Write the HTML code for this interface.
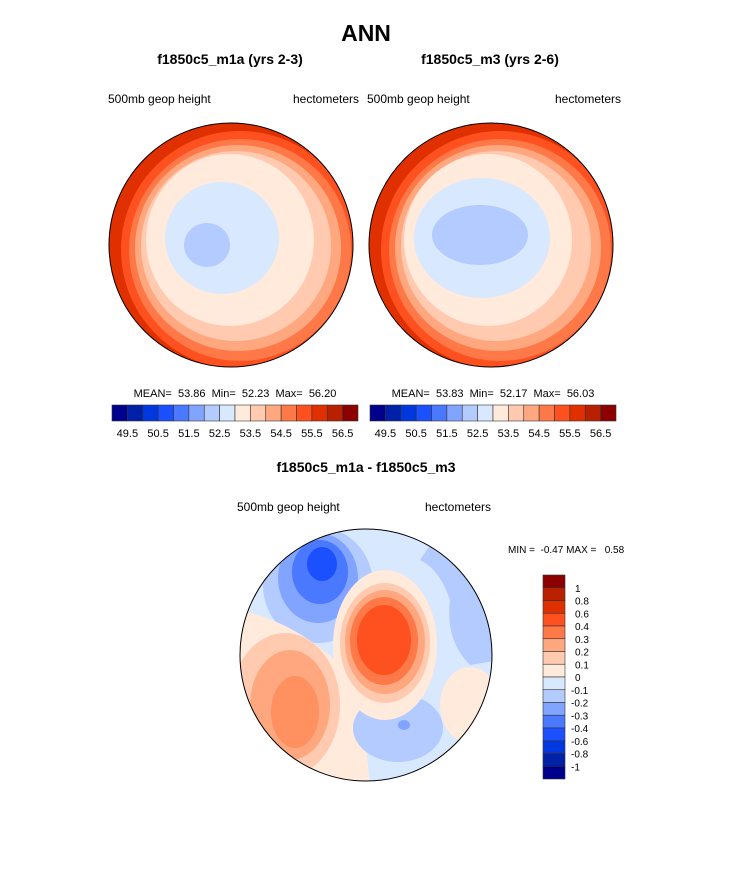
<!DOCTYPE html>
<html><head><meta charset="utf-8"><style>
body{margin:0;background:#fff;}
svg{display:block;font-family:"Liberation Sans",sans-serif;}
text{white-space:pre;}
</style></head><body>
<svg id="chart" width="733" height="882" viewBox="0 0 733 882">
<defs>
<clipPath id="c1"><circle cx="231" cy="245" r="122"/></clipPath>
<clipPath id="c2"><circle cx="491" cy="245" r="122"/></clipPath>
<clipPath id="c3"><circle cx="366" cy="655" r="126"/></clipPath>
</defs>
<text x="366" y="41" text-anchor="middle" font-size="23" font-weight="bold">ANN</text>
<text x="230" y="64" text-anchor="middle" font-size="14" font-weight="bold">f1850c5_m1a (yrs 2-3)</text>
<text x="490" y="64" text-anchor="middle" font-size="14" font-weight="bold">f1850c5_m3 (yrs 2-6)</text>
<text x="108" y="103" font-size="12">500mb geop height</text>
<text x="293" y="103" font-size="12">hectometers</text>
<text x="367" y="103" font-size="12">500mb geop height</text>
<text x="555" y="103" font-size="12">hectometers</text>

<g clip-path="url(#c1)">
<rect x="100" y="115" width="270" height="270" fill="#e03000"/>
<circle cx="240" cy="250" r="119" fill="#ff5020"/>
<circle cx="240" cy="250" r="111" fill="#ff7848"/>
<circle cx="238" cy="248" r="103" fill="#ffa880"/>
<circle cx="236" cy="246" r="95" fill="#ffcab0"/>
<ellipse cx="230" cy="240" rx="84" ry="86" fill="#ffeadc"/>
<ellipse cx="222" cy="238" rx="57" ry="56" fill="#d8e8ff"/>
<ellipse cx="207" cy="245" rx="23" ry="22" fill="#b4cbff"/>
</g>
<circle cx="231" cy="245" r="122" fill="none" stroke="#000" stroke-width="1"/>

<g clip-path="url(#c2)">
<rect x="360" y="115" width="270" height="270" fill="#e03000"/>
<circle cx="500" cy="250" r="119" fill="#ff5020"/>
<circle cx="500" cy="250" r="111" fill="#ff7848"/>
<circle cx="498" cy="248" r="103" fill="#ffa880"/>
<circle cx="496" cy="246" r="95" fill="#ffcab0"/>
<ellipse cx="488" cy="240" rx="84" ry="86" fill="#ffeadc"/>
<ellipse cx="482" cy="238" rx="68" ry="60" fill="#d8e8ff"/>
<ellipse cx="480" cy="235" rx="48" ry="30" fill="#b4cbff"/>
</g>
<circle cx="491" cy="245" r="122" fill="none" stroke="#000" stroke-width="1"/>

<text x="235" y="397" text-anchor="middle" font-size="11">MEAN=  53.86  Min=  52.23  Max=  56.20</text>
<text x="493" y="397" text-anchor="middle" font-size="11">MEAN=  53.83  Min=  52.17  Max=  56.03</text>
<g id="cb1"></g>
<g id="cb2"></g>

<text x="366" y="472" text-anchor="middle" font-size="14" font-weight="bold">f1850c5_m1a - f1850c5_m3</text>
<text x="237" y="511" font-size="12">500mb geop height</text>
<text x="425" y="511" font-size="12">hectometers</text>
<text x="508" y="553" font-size="10">MIN =  -0.47 MAX =   0.58</text>

<g clip-path="url(#c3)">
<rect x="235" y="525" width="270" height="265" fill="#d8e8ff"/>
<path d="M440,530 L500,530 L500,660 L470,665 Q445,640 450,600 Q440,570 420,560 Z" fill="#b4cbff"/>
<ellipse cx="318" cy="585" rx="55" ry="58" fill="#b4cbff"/>
<ellipse cx="318" cy="578" rx="40" ry="45" fill="#80a4ff"/>
<ellipse cx="320" cy="572" rx="28" ry="32" fill="#4a78ff"/>
<ellipse cx="322" cy="564" rx="15" ry="17" fill="#1a50ff"/>
<path d="M238,610 Q290,620 335,660 Q365,700 370,790 L235,790 Z" fill="#ffeadc"/>
<ellipse cx="285" cy="705" rx="55" ry="72" fill="#ffcab0"/>
<ellipse cx="290" cy="705" rx="40" ry="55" fill="#ffa880"/>
<ellipse cx="295" cy="712" rx="24" ry="36" fill="#ff9060"/>
<ellipse cx="470" cy="705" rx="30" ry="38" fill="#ffeadc"/>
<ellipse cx="398" cy="728" rx="45" ry="34" fill="#b4cbff"/>
<ellipse cx="404" cy="725" rx="6" ry="5" fill="#80a4ff"/>
<ellipse cx="385" cy="645" rx="52" ry="75" fill="#ffeadc"/>
<ellipse cx="385" cy="643" rx="45" ry="60" fill="#ffcab0"/>
<ellipse cx="385" cy="642" rx="40" ry="52" fill="#ffa880"/>
<ellipse cx="384" cy="641" rx="34" ry="44" fill="#ff7848"/>
<ellipse cx="384" cy="640" rx="27" ry="35" fill="#ff5020"/>
</g>
<circle cx="366" cy="655" r="126" fill="none" stroke="#000" stroke-width="1"/>
<g id="cb3"></g>
</svg>
<script>
const fillColors = ["#00008c","#0020a8","#0038e0","#1a50ff","#4a78ff","#80a4ff","#b4cbff","#d8e8ff","#ffeadc","#ffcab0","#ffa880","#ff7848","#ff5020","#e03000","#b82000","#8c0000"];
const topTickLabels = ["49.5","50.5","51.5","52.5","53.5","54.5","55.5","56.5"];
const diffTickLabels = ["1","0.8","0.6","0.4","0.3","0.2","0.1","0","-0.1","-0.2","-0.3","-0.4","-0.6","-0.8","-1"];
const NS="http://www.w3.org/2000/svg";
function mk(tag,attrs,parent){const e=document.createElementNS(NS,tag);for(const k in attrs)e.setAttribute(k,attrs[k]);parent.appendChild(e);return e;}
function hbar(id,x0,x1,y,h){
  const g=document.getElementById(id);const w=(x1-x0)/fillColors.length;
  fillColors.forEach((c,i)=>{
    const r=mk('rect',{x:x0+i*w,y:y,width:w,height:h,fill:c,stroke:'#333','stroke-width':0.6},g);
    
    
  });
  topTickLabels.forEach((t,i)=>{
    const tx=mk('text',{x:x0+(i*2+1)*w,y:y+h+16,'text-anchor':'middle','font-size':11},g);
    tx.textContent=t;
    
    
  });
}
hbar('cb1',112,358,405,16);
hbar('cb2',370,616,405,16);
(function(){
  const g=document.getElementById('cb3');const x=543,w=22,y0=575,y1=779;const h=(y1-y0)/fillColors.length;
  fillColors.slice().reverse().forEach((c,i)=>{
    const r=mk('rect',{x:x,y:y0+i*h,width:w,height:h,fill:c,stroke:'#333','stroke-width':0.6},g);
    
    
  });
  diffTickLabels.forEach((t,i)=>{
    const tx=mk('text',{x:x+w+6+(t[0]==='-'?0:4),y:y0+(i+1)*h+4,'font-size':10},g);
    tx.textContent=t;
    
    
  });
})();
</script>
</body></html>
